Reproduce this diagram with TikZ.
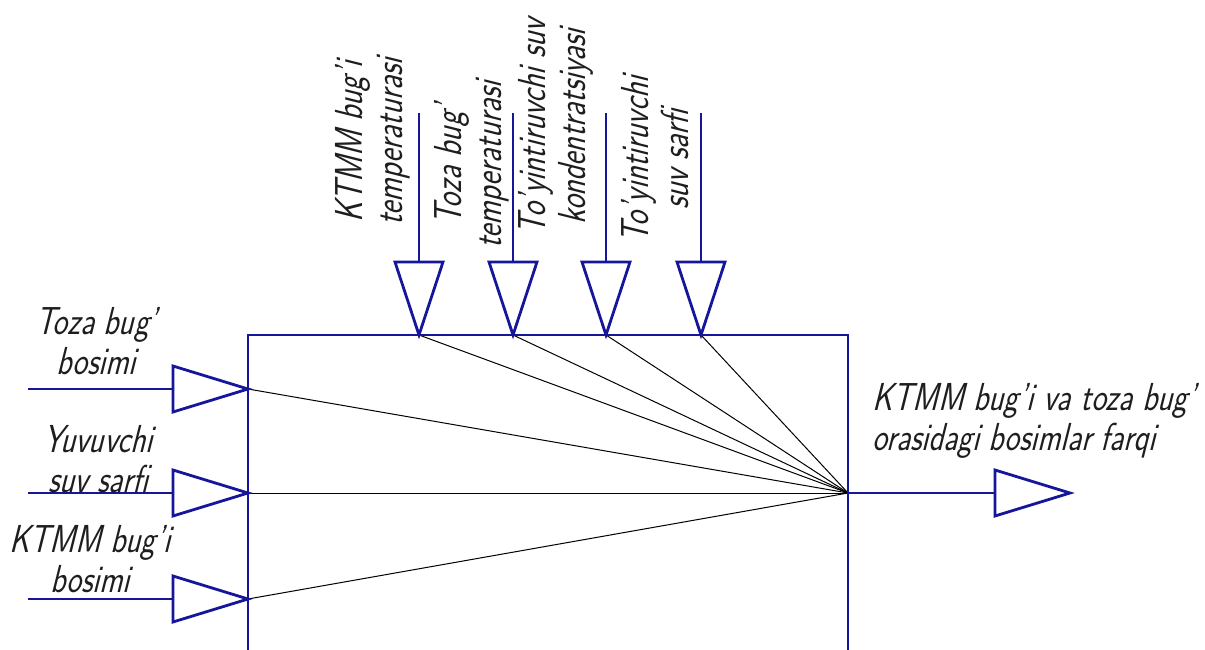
\documentclass[tikz,border=0pt]{standalone}
\usepackage{fontspec}
\setmainfont{Latin Modern Sans}[FakeSlant=0.25, FakeStretch=0.8]
\definecolor{signal}{RGB}{22,22,155}
\definecolor{ink}{RGB}{30,30,30}

\begin{document}
\begin{tikzpicture}[x=1pt,y=-1pt,
  wire/.style={draw=signal, line width=2.8pt},
  head/.style={draw=signal, line width=2.8pt, line join=miter, fill=white},
  ray/.style={draw=black, line width=1pt},
  lbl/.style={text=ink, inner sep=0pt, align=center, font=\fontsize{39}{40}\selectfont},
]
\useasboundingbox (0,0) rectangle (1205,650);

% arrow tips on the block boundary
\coordinate (t1) at (419,335);
\coordinate (t2) at (513,335);
\coordinate (t3) at (606,335);
\coordinate (t4) at (701,335);
\coordinate (l1) at (248,389);
\coordinate (l2) at (248,493);
\coordinate (l3) at (248,599);
\coordinate (f)  at (848,493);
% free ends of the signal lines
\coordinate (s1) at (419,113);
\coordinate (s2) at (513,113);
\coordinate (s3) at (606,113);
\coordinate (s4) at (701,113);
\coordinate (u1) at (28,389);
\coordinate (u2) at (28,493);
\coordinate (u3) at (28,599);
\coordinate (o)  at (1070,493);

% internal links converging on the output point
\foreach \p in {t1,t2,t3,t4,l1,l2,l3}
  \draw[ray] (\p) -- (f);

% the block
\draw[wire] (248,650) -- (248,335) -- (848,335) -- (848,650);

% signal lines
\foreach \a/\b in {s1/t1,s2/t2,s3/t3,s4/t4,u1/l1,u2/l2,u3/l3}
  \draw[wire] (\a) -- (\b);
\draw[wire] (f) -- (o);

% open triangular heads
\foreach \p in {t1,t2,t3,t4}
  \draw[head] (\p) -- ++(-24,-73) -- ++(48,0) -- cycle;
\foreach \p in {l1,l2,l3,o}
  \draw[head] (\p) -- ++(-75,-23) -- ++(0,46) -- cycle;

% labels of the upper inputs
\node[lbl, rotate=90] (a1) at (373,142) {KTMM bug'i\\temperaturasi};
\node[lbl, rotate=90] (a2) at (472,165) {Toza bug'\\temperaturasi};
\node[lbl, rotate=90] (a3) at (556,127) {To'yintiruvchi suv\\kondentratsiyasi};
\node[lbl, rotate=90] (a4) at (655,160) {To'yintiruvchi\\suv sarfi};

% labels of the side inputs
\node[lbl] (b1) at (96,341) {Toza bug'\\bosimi};
\node[lbl] (b2) at (98,459) {Yuvuvchi\\suv sarfi};
\node[lbl] (b3) at (90,559) {KTMM bug'i\\bosimi};

% label of the output
\node[lbl, anchor=west, align=left] (c) at (872,421)
  {KTMM bug'i va toza bug'\\orasidagi bosimlar farqi};
\end{tikzpicture}
\end{document}
